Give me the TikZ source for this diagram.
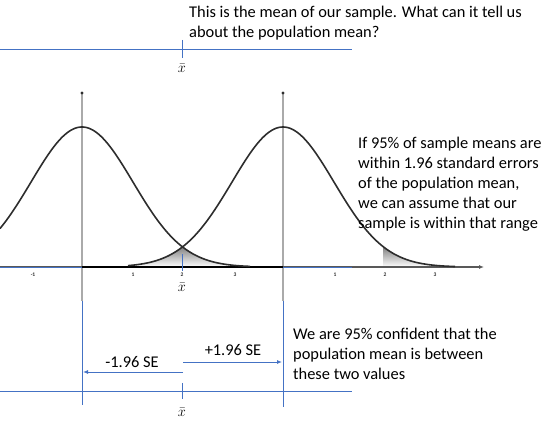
\documentclass[tikz,border=0pt]{standalone}
\usepackage{fontspec}
\setmainfont{Carlito}
\usetikzlibrary{arrows.meta}
\definecolor{obl}{RGB}{68,114,196}
\definecolor{vgray}{RGB}{170,170,170}
\definecolor{shade}{RGB}{212,212,212}
\definecolor{crv}{RGB}{45,45,45}
\begin{document}
\begin{tikzpicture}[x=1pt,y=-1pt,
  txt/.style={font=\fontsize{16.4}{20}\selectfont,align=left,inner sep=0pt,anchor=north west,text=black},
  xbar/.style={font=\fontsize{14}{14}\selectfont,inner sep=0pt},
  tiny/.style={font=\fontsize{5.5}{6}\selectfont\bfseries,inner sep=0pt,text=crv},
  bline/.style={draw=obl,line width=0.9pt},
  curve/.style={draw=crv,line width=1.6pt},
  vline/.style={draw=vgray,line width=2.4pt},
  sarrow/.style={draw=obl,line width=0.9pt,-{Latex[length=5pt,width=4pt]}}]
\useasboundingbox (0,0) rectangle (555,422);
% coordinates
\coordinate (t0) at (0,49);   \coordinate (t1) at (352,49);
\coordinate (m0) at (0,267);  \coordinate (m1) at (352,267);
\coordinate (b0) at (0,391);  \coordinate (b1) at (352,391);
% shaded areas
\fill[shade] plot[domain=130:182,samples=40] (\x,{267-140*exp(-0.5*((\x-283)/51)^2)})
  -- plot[domain=182:245,samples=40] (\x,{267-140*exp(-0.5*((\x-82)/51)^2)}) -- (245,267) -- (130,267) -- cycle;
\fill[shade] (383,267) -- plot[domain=383:440,samples=40] (\x,{267-140*exp(-0.5*((\x-283)/51)^2)}) -- (440,267) -- cycle;
% vertical gray lines
\draw[vline] (82,301) -- (82,94);
\draw[vline] (283,301) -- (283,94);
\fill[crv] (82,93) circle (1.6pt);
\fill[crv] (283,93) circle (1.6pt);
% axis
\coordinate (ax0) at (0,267);
\coordinate (ax1) at (484,267);
\draw[draw=black!65,line width=1.3pt,-{Latex[length=5pt,width=4pt]}] (ax0) -- (ax1);
\draw[black,line width=2.6pt] (82,267) -- (283,267);
% curves
\draw[curve] plot[domain=0:250,samples=120] (\x,{267-140*exp(-0.5*((\x-82)/51)^2)});
\draw[curve] plot[domain=128:455,samples=140] (\x,{267-140*exp(-0.5*((\x-283)/51)^2)});
% axis tick labels
\node[tiny] (l1) at (33,275) {-1};
\node[tiny] (l2) at (133,275) {1};
\node[tiny] (l3) at (182,275) {2};
\node[tiny] (l4) at (235,275) {3};
\node[tiny] (l5) at (335,275) {1};
\node[tiny] (l6) at (385,275) {2};
\node[tiny] (l7) at (435,275) {3};
% blue lines
\draw[bline] (t0) -- (t1);
\draw[bline] (m0) -- (82,267);
\draw[bline] (283,267) -- (m1);
\draw[bline] (b0) -- (b1);
% x-bar ticks
\draw[bline] (182,40) -- (182,58);
\draw[bline] (182,254) -- (182,271);
\draw[bline] (182,383) -- (182,399);
\node[xbar] (xb1) at (182,68) {$\bar{x}$};
\node[xbar] (xb2) at (182,287) {$\bar{x}$};
\node[xbar] (xb3) at (182,412) {$\bar{x}$};
% bottom blue verticals
\coordinate (lv0) at (82,301); \coordinate (lv1) at (82,405);
\coordinate (rv0) at (283,301); \coordinate (rv1) at (283,407);
\draw[bline] (lv0) -- (lv1);
\draw[bline] (rv0) -- (rv1);
% SE arrows
\coordinate (am) at (183,372); \coordinate (al) at (83,372);
\coordinate (ap) at (183,362); \coordinate (ar) at (282,362);
\draw[sarrow] (am) -- (al);
\draw[sarrow] (ap) -- (ar);
\node[font=\fontsize{16.4}{18}\selectfont,inner sep=0pt] (mse) at (132,362) {-1.96 SE};
\node[font=\fontsize{16.4}{18}\selectfont,inner sep=0pt] (pse) at (233,350) {+1.96 SE};
% texts
\node[txt] (top) at (189,5.5) {This is the mean of our sample. What can it tell us\\about the population mean?};
\node[txt] (right) at (358,136.5) {If 95\% of sample means are\\within 1.96 standard errors\\of the population mean,\\we can assume that our\\sample is within that range};
\node[txt] (bot) at (293,328) {We are 95\% confident that the\\population mean is between\\these two values};
\end{tikzpicture}
\end{document}
